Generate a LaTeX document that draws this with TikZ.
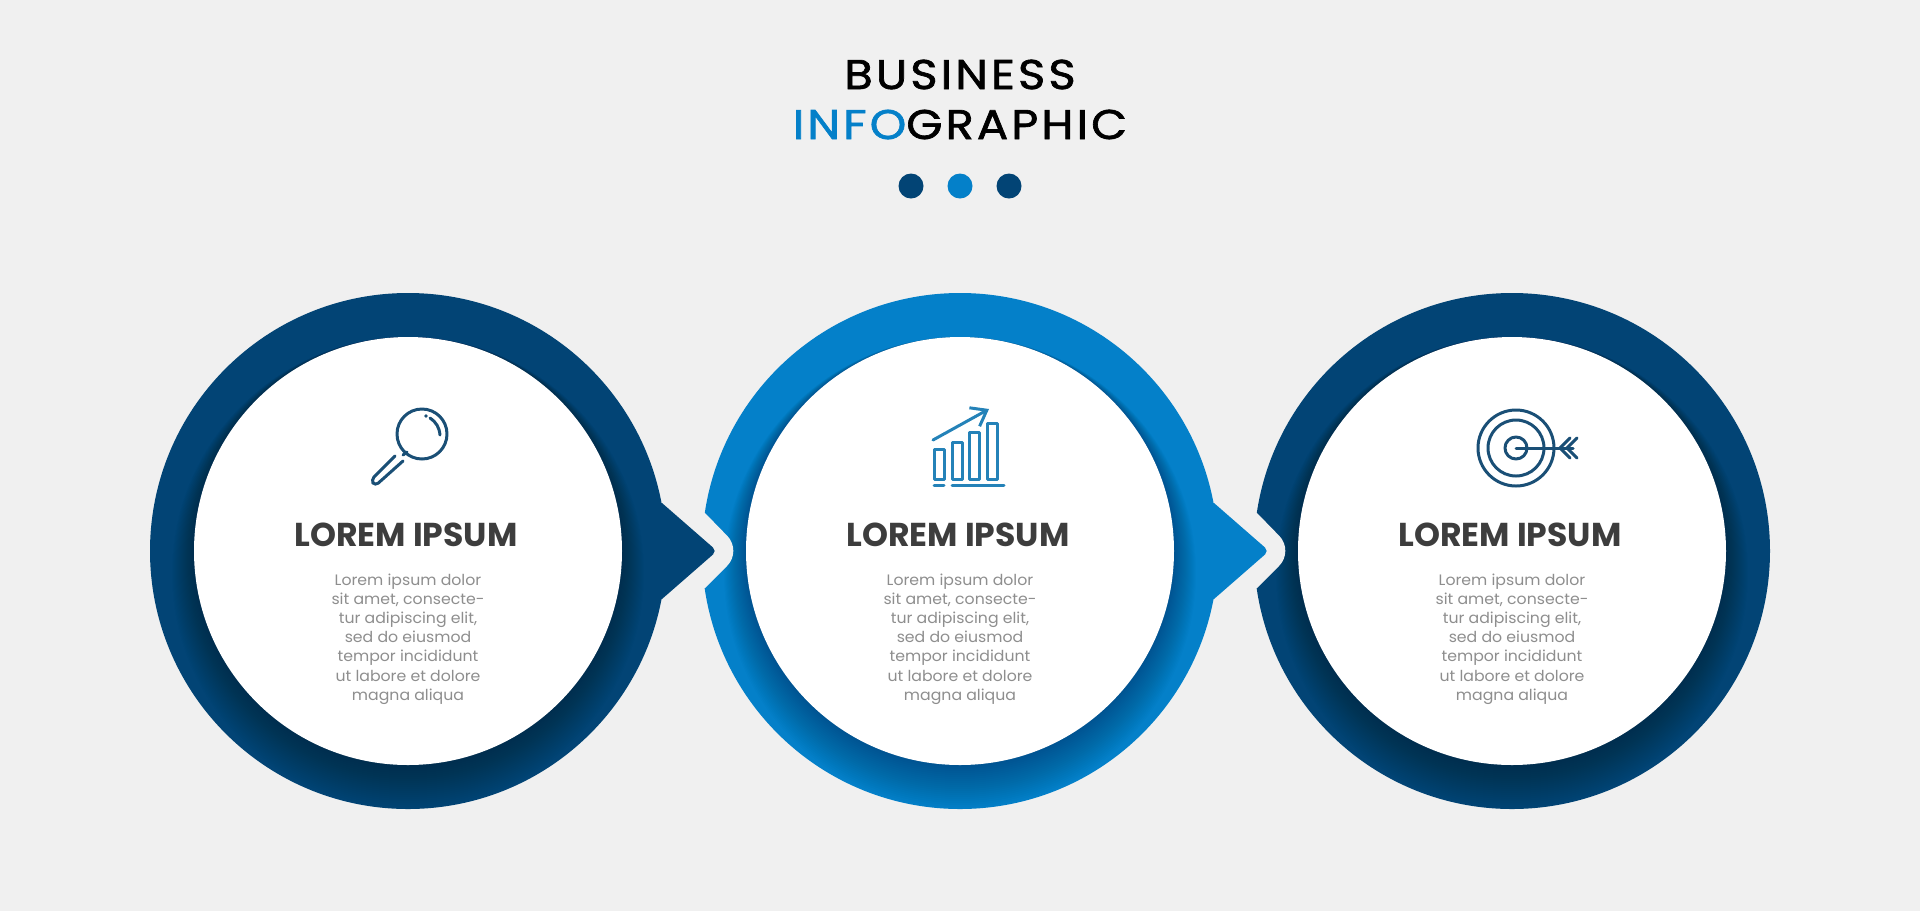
\documentclass[tikz,border=0pt]{standalone}
\usepackage{fontspec}
\setmainfont{Poppins}
\usetikzlibrary{arrows.meta}
\definecolor{pagegray}{HTML}{F0F0F0}
\definecolor{navy}{HTML}{024475}
\definecolor{azure}{HTML}{0480C9}
\definecolor{headgray}{HTML}{3D3D3D}
\definecolor{bodygray}{HTML}{8E8E8E}
\definecolor{iconnavy}{HTML}{1A4F76}
\definecolor{iconblue}{HTML}{2482B8}
\begin{document}
\begin{tikzpicture}[x=0.01cm,y=-0.01cm]

    \tikzset{
      titleline/.style={
        anchor=base,
        inner sep=0pt,
        font=\fontsize{11.8}{14}\selectfont\addfontfeatures{FakeStretch=1.12,LetterSpace=7.5,FakeBold=1.6},
      },
      headline/.style={
        anchor=base,
        inner sep=0pt,
        text=headgray,
        font=\fontsize{9.4}{11}\bfseries\selectfont,
      },
      bodyline/.style={
        anchor=north,
        inner sep=0pt,
        align=center,
        text=bodygray,
        font=\fontsize{4.3}{5.45}\selectfont\addfontfeatures{FakeStretch=1.04},
      },
      iconline/.style={
        line width=0.85pt,
        line cap=round,
        line join=round,
      },
    }
    \useasboundingbox (0,0) rectangle (1920,911);
    \fill[pagegray] (0,0) rectangle (1920,911);

    \node[titleline] (title one) at (960,89) {BUSINESS};
    \node[titleline] (title two) at (960,139) {\textcolor{azure}{INFO}GRAPHIC};
    \fill[navy] (911,186) circle (12.5);
    \fill[azure] (960,186) circle (12.5);
    \fill[navy] (1009,186) circle (12.5);

    % drawn from the right so each pointer lies over the next notch
    \foreach \cx/\col/\hasnotch/\haspointer/\n in {1512/navy/1/0/c,960/azure/1/1/b,408/navy/0/1/a}{
      \fill[\col] (\cx,551) circle (258);
      \foreach \r in {215,216,...,236}
        \fill[black,opacity=0.013] (\cx,551+\r-214) circle (\r);
      \ifnum\hasnotch=1
        \fill[pagegray] (\cx-268,513) -- (\cx-255,513) [rounded corners=6pt] -- (\cx-218,551) [sharp corners] -- (\cx-255,588) -- (\cx-268,588) -- cycle;
      \fi
      \ifnum\haspointer=1
        \fill[\col] (\cx+240,503) -- (\cx+254,503) [rounded corners=1.5pt] -- (\cx+309,551) [sharp corners] -- (\cx+254,599) -- (\cx+240,599) -- cycle;
      \fi
      \fill[white] (\cx,551) circle (214);
      \node[headline] (head \n) at (\cx-2,546) {LOREM IPSUM};
      \node[bodyline] (body \n) at (\cx,573) {Lorem ipsum dolor\\sit amet, consecte-\\tur adipiscing elit,\\sed do eiusmod\\tempor incididunt\\ut labore et dolore\\magna aliqua};
    }

    % magnifier
    \draw[iconline,iconnavy] (422,434) circle (25);
    \draw[iconline,iconnavy] (430,418) to[bend left=25] (440,435);
    \fill[iconnavy] (426,416) circle (1.8);
    \draw[iconline,iconnavy] (403,455) -- (407,452);
    \draw[iconline,iconnavy,rounded corners=1.2pt] (395,456) -- (371,480) -- (375,486) -- (403,461);

    % chart
    \draw[iconline,iconblue] (934,449) rectangle (944,479);
    \draw[iconline,iconblue] (952,442) rectangle (962,479);
    \draw[iconline,iconblue] (969,432) rectangle (979,479);
    \draw[iconline,iconblue] (987,423) rectangle (997,479);
    \draw[iconline,iconblue] (934,485) -- (944,485);
    \draw[iconline,iconblue] (952,485) -- (1004,485);
    \draw[iconline,iconblue,-{Straight Barb[length=4pt,width=6pt]}] (933,440) -- (989,409);

    % target
    \draw[iconline,iconnavy] (1516,448) circle (38);
    \draw[iconline,iconnavy] (1516,448) circle (28);
    \draw[iconline,iconnavy] (1516,448) circle (11);
    \draw[iconline,iconnavy] (1516,448) -- (1573,448);
    \draw[iconline,iconnavy] (1570,438) -- (1560,448) -- (1570,458);
    \draw[iconline,iconnavy] (1577,438) -- (1567,448) -- (1577,458);

\end{tikzpicture}
\end{document}
